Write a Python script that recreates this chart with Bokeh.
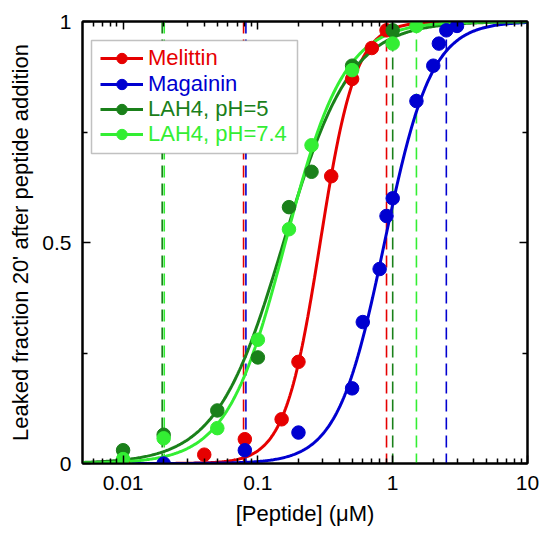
import numpy as np
from bokeh.plotting import figure
from bokeh.models import (Range1d, FixedTicker, CustomJSTickFormatter, LogAxis, LinearAxis,
                          Legend, LegendItem, Span, BoxAnnotation)
from bokeh.embed import file_html
from bokeh.resources import INLINE

# ---- data ----
series_names = ["Melittin", "Magainin", "LAH4, pH=5", "LAH4, pH=7.4"]
series_colors = ["#e60000", "#0000d0", "#1a801a", "#33ee33"]

mel_x = [0.01, 0.04, 0.08, 0.15, 0.2, 0.35, 0.5, 0.7, 0.9]
mel_y = [0.0, 0.02, 0.055, 0.10, 0.23, 0.65, 0.87, 0.94, 0.98]

mag_x = [0.02, 0.08, 0.2, 0.5, 0.6, 0.8, 0.9, 1.0, 1.5, 2.0, 2.2, 2.5, 3.0]
mag_y = [0.0, 0.03, 0.07, 0.17, 0.32, 0.44, 0.56, 0.60, 0.82, 0.90, 0.95, 0.98, 0.99]

lah5_x = [0.01, 0.02, 0.05, 0.1, 0.17, 0.25, 0.5, 1.0]
lah5_y = [0.03, 0.065, 0.12, 0.24, 0.58, 0.66, 0.90, 0.98]

lah74_x = [0.01, 0.02, 0.05, 0.1, 0.17, 0.25, 0.5, 1.0, 1.5]
lah74_y = [0.01, 0.057, 0.08, 0.28, 0.53, 0.72, 0.89, 0.95, 0.99]

# fitted Hill-curve parameters
fit_ec50 = [0.29, 0.87, 0.155, 0.16]
fit_hill = [3.3, 2.5, 1.75, 2.0]

# dashed concentration markers
span_x = [0.0195, 0.0202, 0.0783, 0.0815, 0.9, 1.0, 1.5, 2.5]
span_series = [2, 3, 0, 1, 0, 2, 3, 1]

x_major = [0.01, 0.1, 1, 10]
x_minor = [0.006, 0.007, 0.008, 0.009,
           0.02, 0.03, 0.04, 0.05, 0.06, 0.07, 0.08, 0.09,
           0.2, 0.3, 0.4, 0.5, 0.6, 0.7, 0.8, 0.9,
           2, 3, 4, 5, 6, 7, 8, 9]
y_major = [0, 0.5, 1]
y_minor = [0.25, 0.75]

FONT = "Liberation Sans"

p = figure(width=543, height=533, x_axis_type="log",
           x_range=Range1d(0.005, 10), y_range=Range1d(0, 1),
           output_backend="svg", toolbar_location=None,
           min_border_left=82, min_border_right=16, min_border_top=21, min_border_bottom=70)
p.xgrid.visible = False
p.ygrid.visible = False
p.outline_line_color = "black"
p.outline_line_width = 2
p.background_fill_color = "white"

# dashed verticals (behind the data)
for xv, si in zip(span_x, span_series):
    p.add_layout(Span(location=xv, dimension="height", line_color=series_colors[si],
                      line_width=1.6, line_dash="12 6", level="underlay"))

all_x = [mel_x, mag_x, lah5_x, lah74_x]
all_y = [mel_y, mag_y, lah5_y, lah74_y]
xc = np.logspace(np.log10(0.005), 1, 400)

line_rs, scat_rs = [], []
for i in range(4):
    yc = xc ** fit_hill[i] / (fit_ec50[i] ** fit_hill[i] + xc ** fit_hill[i])
    lr = p.line(xc, yc, line_color=series_colors[i], line_width=3)
    line_rs.append(lr)
for i in range(4):
    sr = p.scatter(all_x[i], all_y[i], marker="circle", size=13.5,
                   fill_color=series_colors[i], line_color=series_colors[i])
    scat_rs.append(sr)

fmt = CustomJSTickFormatter(code="return tick.toString();")
blank = CustomJSTickFormatter(code="return '';")

def style_axis(ax):
    ax.axis_line_width = 2
    ax.major_tick_in = 8
    ax.major_tick_out = 0
    ax.minor_tick_in = 5
    ax.minor_tick_out = 0
    ax.major_tick_line_width = 1.5
    ax.minor_tick_line_width = 1.5
    ax.major_label_text_font = FONT
    ax.major_label_text_font_size = "21px"
    ax.major_label_text_color = "black"
    ax.axis_label_text_font = FONT
    ax.axis_label_text_font_size = "22px"
    ax.axis_label_text_font_style = "normal"
    ax.axis_label_text_color = "black"

xt = FixedTicker(ticks=x_major, minor_ticks=x_minor)
yt = FixedTicker(ticks=y_major, minor_ticks=y_minor)

xa = p.xaxis[0]
xa.ticker = xt
xa.formatter = fmt
style_axis(xa)
xa.major_label_standoff = 12
xa.axis_label = "[Peptide] (μM)"
xa.axis_label_standoff = 8

ya = p.yaxis[0]
ya.ticker = yt
ya.formatter = fmt
style_axis(ya)
ya.major_label_standoff = 11
ya.axis_label = "Leaked fraction 20' after peptide addition"
ya.axis_label_standoff = 6

top = LogAxis(ticker=xt, formatter=blank)
style_axis(top)
top.major_label_text_font_size = "0px"
p.add_layout(top, "above")
right = LinearAxis(ticker=yt, formatter=blank)
style_axis(right)
right.major_label_text_font_size = "0px"
p.add_layout(right, "right")

# legend box + one legend per series so each label has its own colour
p.add_layout(BoxAnnotation(left=9, right=215, top=423, bottom=310,
                           left_units="screen", right_units="screen",
                           top_units="screen", bottom_units="screen",
                           fill_color="white", fill_alpha=1.0,
                           line_color="#333333", line_width=1.5))
row_offsets = [392, 366.5, 341, 316]
for i in range(4):
    leg = Legend(items=[LegendItem(label=series_names[i], renderers=[line_rs[i], scat_rs[i]])],
                 location=(18, row_offsets[i]), orientation="vertical",
                 padding=0, margin=0, spacing=0,
                 glyph_width=43, glyph_height=26, label_height=26, label_standoff=5,
                 label_text_font=FONT, label_text_font_size="22px",
                 label_text_color=series_colors[i],
                 border_line_color=None, background_fill_alpha=0.0)
    p.add_layout(leg, "center")

open("out.html", "w").write(file_html(p, INLINE))
